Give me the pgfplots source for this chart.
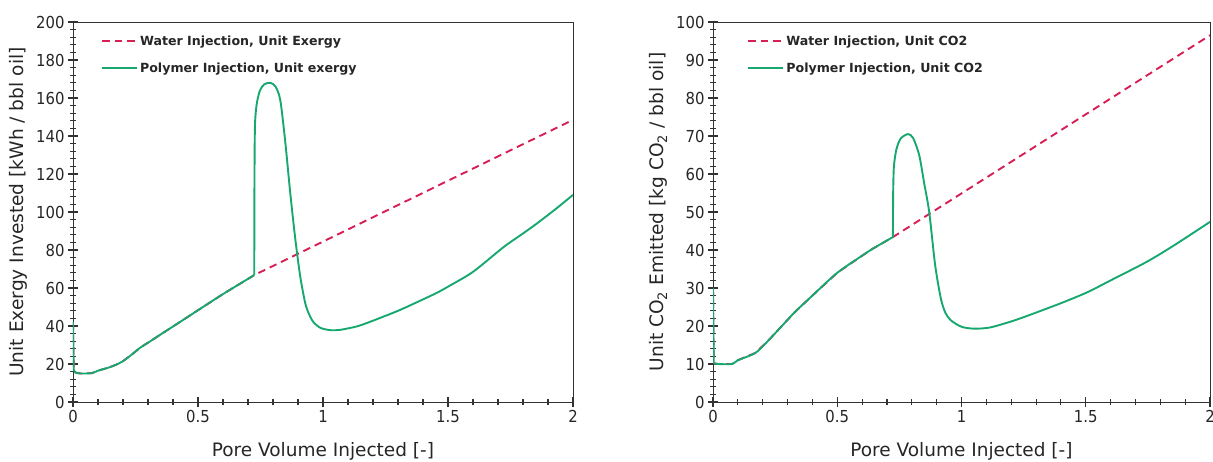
\documentclass[border=0pt]{standalone}
\usepackage{fontspec}
\setmainfont{DejaVu Sans}
\newfontfamily\condfont{DejaVu Sans Condensed}
\usepackage{pgfplots}
\pgfplotsset{compat=1.18}
\definecolor{water}{RGB}{214,32,84}
\definecolor{poly}{RGB}{22,168,110}
\definecolor{axgray}{RGB}{50,50,50}
\pgfplotsset{
 mystyle/.style={
  scale only axis, height=380pt,
  axis x line*=bottom, axis y line*=left,
  xmin=0,xmax=2, xtick={0,0.5,1,1.5,2}, xticklabels={0,0.5,1,1.5,2},
  minor x tick num=4,
  minor y tick num=4,
  tick align=center,
  major tick length=10pt, minor tick length=6pt,
  every tick/.style={axgray, line width=1.1pt},
  axis line style={axgray, line width=0.9pt, -},
  after end axis/.code={\draw[axgray, line width=0.9pt] (rel axis cs:0,1) -- (rel axis cs:1,1) -- (rel axis cs:1,0);},
  ticklabel style={font=\condfont\fontsize{16.5}{16.5}\selectfont, text=black!85},
  xlabel style={font=\fontsize{18.5}{18.5}\selectfont, text=black!85,
     at={(axis description cs:0.5,-0.13)}, anchor=center},
  ylabel style={font=\fontsize{18.6}{18.6}\selectfont, text=black!85,
     at={(axis description cs:-0.11,0.5)}, anchor=center},
  /pgf/number format/assume math mode=true,
  legend style={draw=none, fill=none, anchor=north west,
    font=\bfseries\fontsize{12.6}{12.6}\selectfont, row sep=12pt, text=black!85},
  legend cell align=left,
  legend image code/.code={\draw[##1, line width=1.9pt] (0pt,0pt) -- (35pt,0pt);},
 },
 wline/.style={water, line width=1.9pt, dash pattern=on 7.5pt off 5pt},
 pline/.style={poly, line width=1.9pt},
}
\begin{document}
\begin{tikzpicture}
\path[use as bounding box] (-73pt,-59pt) rectangle (1140pt,402pt);
\begin{axis}[mystyle, width=500pt, at={(0pt,0pt)}, anchor=south west,
  ymin=0, ymax=200, ytick={0,20,...,200},
  legend style={at={(0.05,0.975)}},
  xlabel={Pore Volume Injected [-]},
  ylabel={Unit Exergy Invested [kWh / bbl oil]}]
\addplot[wline] coordinates {(0,42) (0.003,17) (0.01,15.5) (0.03,15) (0.076,15.2) (0.1,16.5) (0.14,18) (0.17,19.5) (0.2,21.5) (0.24,25.5) (0.27,28.7) (0.3,31.2) (0.35,35.5) (0.43,42.3) (0.5,48.3) (0.6,56.8) (0.725,66.8) (2.0,148.5)};
\addlegendentry{Water Injection, Unit Exergy}
\addplot[pline] coordinates {(0,42) (0.003,17)};
\addlegendentry{Polymer Injection, Unit exergy}
\addplot[pline, smooth, tension=0.5, forget plot] coordinates {(0.003,17) (0.01,15.5) (0.03,15) (0.076,15.2) (0.1,16.5) (0.14,18) (0.17,19.5) (0.2,21.5) (0.24,25.5) (0.27,28.7) (0.3,31.2) (0.35,35.5) (0.43,42.3) (0.5,48.3) (0.6,56.8) (0.725,66.8)};
\addplot[pline, smooth, tension=0.45, forget plot] coordinates {(0.725,66.8) (0.726,120) (0.728,146) (0.735,157) (0.748,164) (0.765,167.2) (0.789,168) (0.81,166) (0.829,159) (0.849,137) (0.869,110) (0.889,86) (0.909,66) (0.929,52) (0.945,46) (0.962,42) (0.99,39) (1.03,37.8) (1.07,38) (1.136,39.8) (1.19,42.3) (1.3,48) (1.4,54) (1.456,57.5) (1.5,60.7) (1.6,68.5) (1.722,81.5) (1.8,88.7) (1.856,94) (1.93,101.5) (2.0,109)};
\end{axis}
\begin{axis}[mystyle, width=497pt, at={(640pt,0pt)}, anchor=south west,
  ymin=0, ymax=100, ytick={0,10,...,100},
  legend style={at={(0.063,0.975)}},
  xlabel={Pore Volume Injected [-]},
  ylabel={Unit CO\textsubscript{2} Emitted [kg CO\textsubscript{2} / bbl oil]}]
\addplot[wline] coordinates {(0,30) (0.003,10.2) (0.02,10) (0.077,10) (0.1,11) (0.17,12.9) (0.22,16) (0.28,20.2) (0.33,23.7) (0.4,28) (0.5,34) (0.6,38.5) (0.642,40.3) (0.724,43.4) (2.0,96.5)};
\addlegendentry{Water Injection, Unit CO2}
\addplot[pline] coordinates {(0,30) (0.003,10.2)};
\addlegendentry{Polymer Injection, Unit CO2}
\addplot[pline, smooth, tension=0.5, forget plot] coordinates {(0.003,10.2) (0.02,10) (0.077,10) (0.1,11) (0.17,12.9) (0.22,16) (0.28,20.2) (0.33,23.7) (0.4,28) (0.5,34) (0.6,38.5) (0.642,40.3) (0.724,43.4)};
\addplot[pline, smooth, tension=0.45, forget plot] coordinates {(0.724,43.4) (0.725,55) (0.728,62) (0.738,66.5) (0.755,69.3) (0.784,70.5) (0.805,69.5) (0.83,64.9) (0.85,57.5) (0.87,50) (0.894,36) (0.917,27.2) (0.935,23.5) (0.957,21.5) (1.0,19.8) (1.05,19.3) (1.114,19.6) (1.2,21.2) (1.27,22.8) (1.4,26) (1.507,28.9) (1.6,32) (1.743,36.8) (1.85,41) (2.0,47.4)};
\end{axis}
\end{tikzpicture}
\end{document}
